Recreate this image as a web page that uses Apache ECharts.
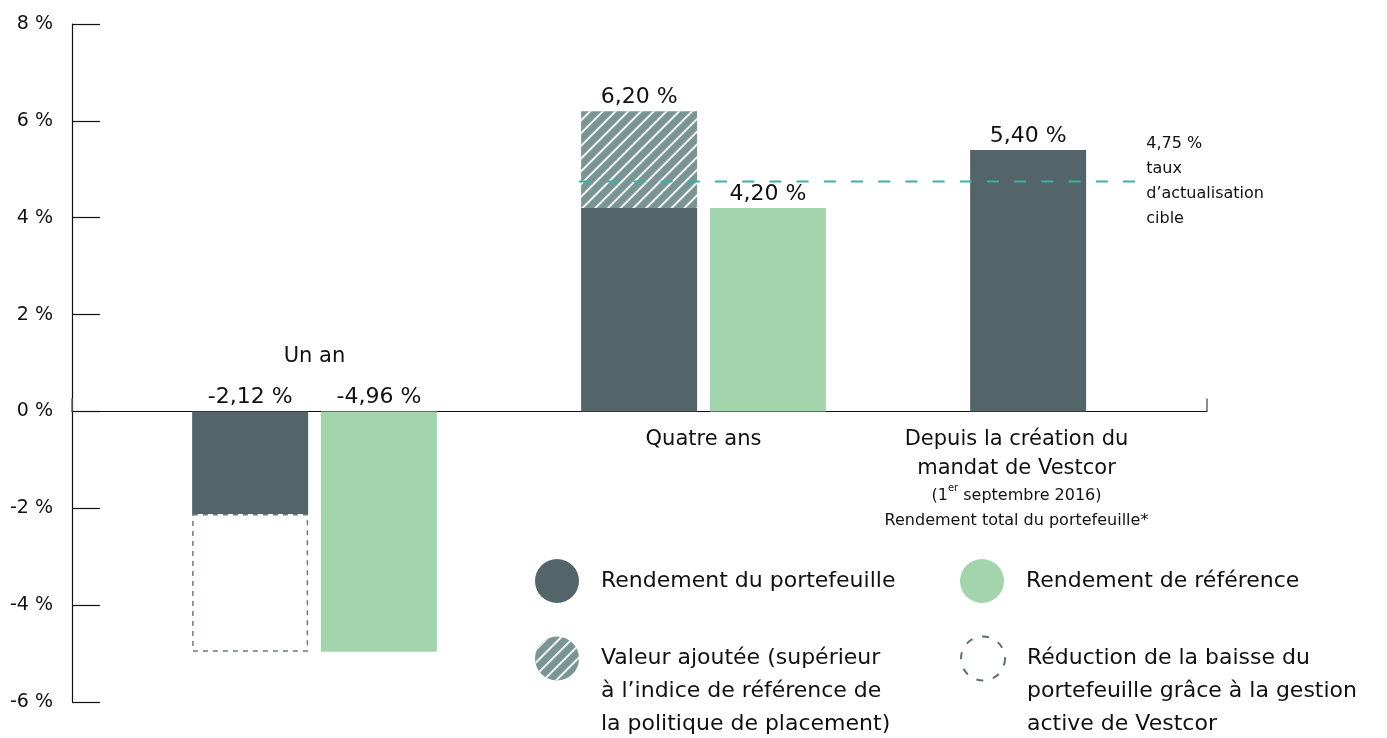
<!DOCTYPE html>
<html>
<head>
<meta charset="utf-8">
<script src="https://cdn.jsdelivr.net/npm/echarts@6/dist/echarts.min.js"></script>
<style>
  html, body { margin: 0; padding: 0; background: #fff; }
  #chart { width: 1387px; height: 738px; }
</style>
</head>
<body>
<div id="chart"></div>
<script>
// data
var categories = ['Un an', 'Quatre ans', 'Depuis la création du mandat de Vestcor'];
var portfolioReturn = [-2.12, 4.20, 5.40];
var valueAdded = [null, 2.00, null];
var lossReduction = [-2.84, null, null];
var benchmarkReturn = [-4.96, 4.20, null];
var targetRate = 4.75;
var targetSpan = [1.18, 2.615]; // in category units
var yTicks = { min: -6, max: 8, step: 2 };

var FONT = 'DejaVu Sans';
var DARK = '#536569';
var GREEN = '#a3d4ab';
var HATCH = '#7b9494';
var TEAL = '#40ada6';
var INK = '#111';

function pct(v) {
  return v.toFixed(2).replace('.', ',') + ' %';
}

var hatchDecal = {
  symbol: 'rect',
  symbolSize: 1,
  dashArrayX: [1, 0],
  dashArrayY: [1.1, 6.6],
  rotation: -Math.PI / 4,
  color: 'rgba(255,255,255,0.9)'
};

var valueLabel = {
  show: true,
  position: 'top',
  distance: 3,
  fontFamily: FONT,
  fontSize: 22,
  color: INK,
  formatter: function (p) { return p.value == null ? '' : pct(p.value); }
};

var catLabels = categories.map(function (c, i) {
  var side = i === 0 ? 'top' : 'bottom';
  var item = {
    value: [i, 0],
    label: {
      show: true,
      position: side,
      distance: i === 0 ? 40 : 14,
      fontFamily: FONT,
      fontSize: 21,
      color: INK,
      lineHeight: 29,
      formatter: c
    }
  };
  if (i === 2) {
    item.label.offset = [-76, 0];
    item.label.formatter = '{a|Depuis la création du}\n{a|mandat de Vestcor}\n{b|(1}{s|er}{b| septembre 2016)}\n{b|Rendement total du portefeuille*}';
    item.label.rich = {
      a: { fontFamily: FONT, fontSize: 21, lineHeight: 29, color: INK },
      b: { fontFamily: FONT, fontSize: 16, lineHeight: 25, color: INK },
      s: { fontFamily: FONT, fontSize: 10, lineHeight: 25, verticalAlign: 'top', color: INK, padding: [0, 0, 8, 0] }
    };
  }
  return item;
});

var chart = echarts.init(document.getElementById('chart'));

function legendBox(name, left, top, extra) {
  var l = {
    data: [name],
    left: left,
    top: top,
    padding: 0,
    icon: 'circle',
    itemWidth: 44,
    itemHeight: 44,
    selectedMode: false,
    textStyle: { fontFamily: FONT, fontSize: 22, color: INK, lineHeight: 33, padding: [0, 0, 0, 17] }
  };
  for (var k in extra) l[k] = extra[k];
  return l;
}

var option = {
  animation: false,
  grid: [
    { left: 72, right: 180, top: 24, bottom: 36 },
    { left: 120, right: 100, top: 24, bottom: 36 }
  ],
  xAxis: [
    {
      gridIndex: 0, type: 'value', min: 0, max: 1, interval: 1,
      axisLine: { onZero: true, lineStyle: { color: INK, width: 1.2 } },
      axisTick: { show: true, inside: true, length: 13, lineStyle: { color: '#666', width: 1.5 } },
      axisLabel: { show: false },
      splitLine: { show: false }
    },
    {
      gridIndex: 1, type: 'category', data: categories,
      axisLine: { show: false }, axisTick: { show: false }, axisLabel: { show: false }
    },
    {
      gridIndex: 1, type: 'value', min: 0, max: 3, show: false
    }
  ],
  yAxis: [
    {
      gridIndex: 0, type: 'value', min: yTicks.min, max: yTicks.max, interval: yTicks.step,
      axisLine: { show: true, lineStyle: { color: INK, width: 1.2 } },
      axisTick: { show: true, inside: true, length: 28, lineStyle: { color: INK, width: 1.2 } },
      axisLabel: {
        margin: 19, fontFamily: FONT, fontSize: 19, color: INK,
        formatter: function (v) { return v + ' %'; }
      },
      splitLine: { show: false }
    },
    {
      gridIndex: 1, type: 'value', min: yTicks.min, max: yTicks.max, show: false
    }
  ],
  legend: [
    legendBox('Rendement du portefeuille', 535, 559),
    legendBox('Rendement de référence', 960, 559),
    legendBox('Valeur ajoutée', 535, 576, {
      formatter: function () { return '\n\nValeur ajoutée (supérieur\nà l’indice de référence de\nla politique de placement)'; }
    }),
    legendBox('Réduction', 960, 576, {
      formatter: function () { return '\n\nRéduction de la baisse du\nportefeuille grâce à la gestion\nactive de Vestcor'; },
      itemStyle: { color: 'rgba(0,0,0,0)', borderColor: '#5d6e70', borderWidth: 2, borderType: [7, 10] }
    })
  ],
  series: [
    {
      name: 'Rendement du portefeuille', type: 'bar', stack: 'port',
      xAxisIndex: 1, yAxisIndex: 1,
      barWidth: 116, barGap: '11%',
      itemStyle: { color: DARK },
      data: portfolioReturn,
      label: {
        show: true, position: 'top', distance: 3, fontFamily: FONT, fontSize: 22, color: INK,
        formatter: function (p) { return valueAdded[p.dataIndex] != null ? '' : pct(p.value); }
      }
    },
    {
      name: 'Valeur ajoutée', type: 'bar', stack: 'port',
      xAxisIndex: 1, yAxisIndex: 1,
      barWidth: 116, barGap: '11%',
      itemStyle: { color: HATCH, decal: hatchDecal },
      data: valueAdded,
      label: {
        show: true, position: 'top', distance: 3, fontFamily: FONT, fontSize: 22, color: INK,
        formatter: function (p) { return p.value == null ? '' : pct(portfolioReturn[p.dataIndex] + p.value); }
      }
    },
    {
      name: 'Réduction', type: 'bar', stack: 'port',
      xAxisIndex: 1, yAxisIndex: 1,
      barWidth: 116, barGap: '11%',
      itemStyle: { color: 'rgba(0,0,0,0)', borderColor: '#6a7c7f', borderWidth: 1.5, borderType: [5, 5] },
      data: lossReduction
    },
    {
      name: 'Rendement de référence', type: 'bar',
      xAxisIndex: 1, yAxisIndex: 1,
      barWidth: 116, barGap: '11%',
      itemStyle: { color: GREEN },
      data: benchmarkReturn,
      label: valueLabel
    },
    {
      name: 'Taux cible', type: 'line', xAxisIndex: 2, yAxisIndex: 1, z: 5,
      symbol: 'none',
      lineStyle: { color: TEAL, width: 2, type: [12, 15.2] },
      data: [[targetSpan[0], targetRate], [targetSpan[1], targetRate]],
      endLabel: {
        show: true, distance: 9, fontFamily: FONT, fontSize: 16, lineHeight: 25, color: INK,
        formatter: function () {
          return pct(targetRate) + '\ntaux\nd’actualisation\ncible';
        }
      }
    },
    {
      name: 'cat', type: 'scatter', xAxisIndex: 1, yAxisIndex: 1,
      symbolSize: 0, silent: true,
      itemStyle: { opacity: 1 },
      data: catLabels
    }
  ]
};

chart.setOption(option);
</script>
</body>
</html>
